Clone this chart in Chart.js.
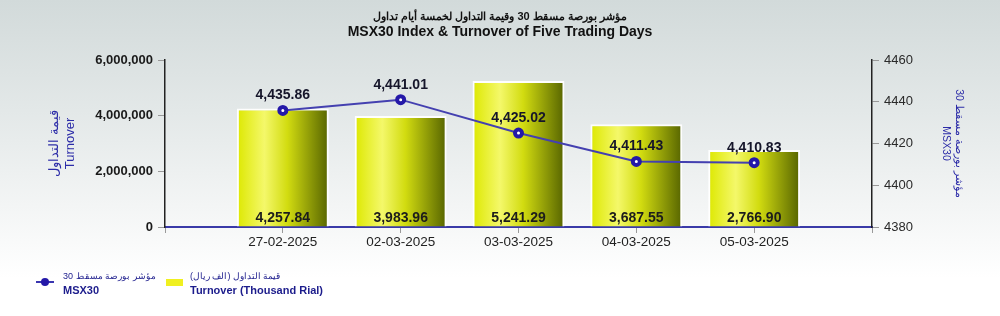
<!DOCTYPE html>
<html>
<head>
<meta charset="utf-8">
<script src="https://cdn.jsdelivr.net/npm/chart.js@4/dist/chart.umd.min.js"></script>
<style>
  body { margin: 0; }
  #wrap {
    position: relative; width: 1000px; height: 316px; overflow: hidden;
    background: linear-gradient(to bottom, #d2dada 0%, #e3e8e8 35%, #f3f5f5 65%, #ffffff 88%);
    font-family: "Liberation Sans", Arial, sans-serif;
  }
  #title { position: absolute; left: 0; top: 8px; width: 1000px; text-align: center; font-weight: bold; font-size: 14px; color: #111; line-height: 15px; }
  #title .ar { font-size: 11px; }
  #legend { position: absolute; left: 0; top: 268px; font-size: 11px; color: #1c1c8c; line-height: 14px; }
  .item { position: absolute; top: 0; white-space: nowrap; }
  .en { font-weight: bold; }
  .ar { font-size: 9px; display: inline-block; }
</style>
</head>
<body>
<div id="wrap">
  <canvas id="chart" width="1000" height="316"></canvas>
  <div id="title">
    <div class="ar" dir="rtl">مؤشر بورصة مسقط 30 وقيمة التداول لخمسة أيام تداول</div>
    <div>MSX30 Index &amp; Turnover of Five Trading Days</div>
  </div>
  <div id="legend">
    <div class="item" style="left:36px;top:13px;width:18px;height:2px;background:#3a36b0"></div>
    <div class="item" style="left:41px;top:10px;width:8px;height:8px;border-radius:50%;background:#2418a8"></div>
    <div class="item" style="left:63px"><span class="ar" dir="rtl">مؤشر بورصة مسقط 30</span><br><span class="en">MSX30</span></div>
    <div class="item" style="left:166px;top:11px;width:17px;height:7px;background:#f0f020"></div>
    <div class="item" style="left:190px"><span class="ar" dir="rtl">قيمة التداول (الف ريال)</span><br><span class="en">Turnover (Thousand Rial)</span></div>
  </div>
</div>
<script>
const dates = ['27-02-2025', '02-03-2025', '03-03-2025', '04-03-2025', '05-03-2025'];
const turnover = [4257840, 3983960, 5241290, 3687550, 2766900];
const msx30 = [4435.86, 4441.01, 4425.02, 4411.43, 4410.83];
const leftTicks = [0, 2000000, 4000000, 6000000];
const rightTicks = [4380, 4400, 4420, 4440, 4460];

// one empty slot on each side so the bars sit away from the axes
const labels = [''].concat(dates, ['']);
const barData = [null].concat(turnover, [null]);
const lineData = [null].concat(msx30, [null]);

const barPct = 0.78;

function barFill(context) {
    const chart = context.chart;
    if (!chart.chartArea || context.dataIndex == null) return '#e8f000';
    const xs = chart.scales.x;
    const cx = xs.getPixelForValue(context.dataIndex);
    const half = (xs.getPixelForValue(1) - xs.getPixelForValue(0)) * barPct / 2;
    const g = chart.ctx.createLinearGradient(cx - half, 0, cx + half, 0);
    g.addColorStop(0, '#dde800');
    g.addColorStop(0.3, '#f4f86a');
    g.addColorStop(0.55, '#d2dc10');
    g.addColorStop(1, '#566400');
    return g;
}

const fmt = (v) => v.toLocaleString('en-US', { minimumFractionDigits: 2, maximumFractionDigits: 2 });

const valueLabels = {
    id: 'valueLabels',
    afterDatasetsDraw(chart) {
        const ctx = chart.ctx;
        ctx.save();
        ctx.textAlign = 'center';
        ctx.textBaseline = 'middle';
        ctx.font = 'bold 14px "Liberation Sans", Arial, sans-serif';
        ctx.fillStyle = '#1c1c1c';
        chart.getDatasetMeta(0).data.forEach((el, i) => {
            if (barData[i] == null) return;
            ctx.fillText(fmt(barData[i] / 1000), el.x, chart.chartArea.bottom - 9);
        });
        ctx.fillStyle = '#15152a';
        chart.getDatasetMeta(1).data.forEach((el, i) => {
            if (lineData[i] == null) return;
            ctx.fillText(fmt(lineData[i]), el.x, el.y - 15);
        });
        ctx.restore();
    }
};

new Chart(document.getElementById('chart'), {
    type: 'bar',
    data: {
        labels: labels,
        datasets: [{
            label: 'Turnover (Thousand Rial)',
            data: barData,
            yAxisID: 'y',
            backgroundColor: barFill,
            borderColor: 'rgba(255,255,255,0.95)',
            borderWidth: 2,
            barPercentage: barPct,
            categoryPercentage: 1,
            order: 1
        }, {
            type: 'line',
            label: 'MSX30',
            data: lineData,
            yAxisID: 'y1',
            borderColor: '#4440b0',
            borderWidth: 2,
            pointRadius: 3.5,
            pointBorderWidth: 4,
            pointBackgroundColor: '#ffffff',
            pointBorderColor: '#2418a8',
            spanGaps: false,
            order: 0
        }]
    },
    options: {
        responsive: false,
        animation: false,
        layout: { padding: { top: 60, left: 0, right: 0, bottom: 0 } },
        plugins: {
            legend: { display: false },
            title: { display: false },
            tooltip: { enabled: false }
        },
        scales: {
            x: {
                offset: false,
                grid: { offset: false, drawOnChartArea: false, tickLength: 6, color: '#9a9a9a' },
                border: { color: '#3a3aa8', width: 2 },
                ticks: {
                    maxRotation: 0, autoSkip: false, padding: 1,
                    color: '#222', font: { family: '"Liberation Sans", Arial, sans-serif', size: 13.5 }
                },
                afterFit(scale) { scale.height = 89; }
            },
            y: {
                position: 'left',
                min: 0, max: 6000000,
                afterBuildTicks(scale) { scale.ticks = leftTicks.map(v => ({ value: v })); },
                grid: { drawOnChartArea: false, tickLength: 7, color: '#999' },
                border: { color: '#222', width: 1.5 },
                ticks: {
                    padding: 5, color: '#1a1a1a',
                    font: { family: '"Liberation Sans", Arial, sans-serif', size: 13, weight: 'bold' },
                    callback: (v) => v.toLocaleString('en-US')
                },
                title: {
                    display: true,
                    text: ['قيمة التداول', 'Turnover'],
                    color: '#2c2ca8',
                    padding: { top: 47, bottom: 0 },
                    font: { family: '"Liberation Sans", Arial, sans-serif', size: 13 }
                },
                afterFit(scale) { scale.width = 165; }
            },
            y1: {
                position: 'right',
                min: 4380, max: 4460,
                afterBuildTicks(scale) { scale.ticks = rightTicks.map(v => ({ value: v })); },
                grid: { drawOnChartArea: false, tickLength: 7, color: '#999' },
                border: { color: '#222', width: 1.5 },
                ticks: {
                    padding: 5, color: '#2a2a2a',
                    font: { family: '"Liberation Sans", Arial, sans-serif', size: 13 },
                    callback: (v) => String(v)
                },
                title: {
                    display: true,
                    text: ['مؤشر بورصة مسقط 30', 'MSX30'],
                    color: '#2c2ca8',
                    padding: { top: 35, bottom: 0 },
                    font: { family: '"Liberation Sans", Arial, sans-serif', size: 10.5 }
                },
                afterFit(scale) { scale.width = 128; }
            }
        }
    },
    plugins: [valueLabels]
});
</script>
</body>
</html>
